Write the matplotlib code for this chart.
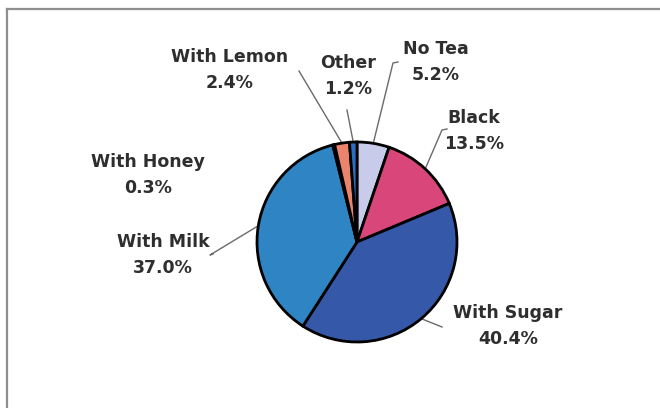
"""
Tea drinking habits - pie chart with leader-line labels.
"""

import numpy as np
import matplotlib.pyplot as plt

# Data (clockwise from 12 o'clock)
categories = ['No Tea', 'Black', 'With Sugar', 'With Milk', 'With Honey', 'With Lemon', 'Other']
shares = [5.2, 13.5, 40.4, 37.0, 0.3, 2.4, 1.2]
slice_colors = ['#C9CBEA', '#D8467A', '#3559A8', '#2F84C4', '#1F3F8C', '#EA846C', '#2A6EC0']

# Layout (pixel coords, origin top-left)
W, H = 660, 408
CENTER = (357, 242)
RADIUS = 100
label_pos = {
    'No Tea': (436, 62), 'Black': (474, 131), 'With Sugar': (508, 326),
    'With Milk': (163, 255), 'With Honey': (148, 175), 'With Lemon': (230, 70),
    'Other': (348, 76),
}
# leader line outer end, plus optional little elbow tick
leader_end = {
    'No Tea': [(398, 62), (393, 63)], 'Black': [(447, 129), (442, 130)],
    'With Sugar': [(442, 327)], 'With Milk': [(213, 254), (210, 255)],
    'With Lemon': [(299, 71)], 'Other': [(347, 110)],
}
TEXT_COLOR = '#2E2E2E'
LEADER_COLOR = '#6A6A6A'

fig = plt.figure(figsize=(W / 100, H / 100), dpi=100, facecolor='white')
ax = fig.add_axes([0, 0, 1, 1])
ax.set_xlim(0, W)
ax.set_ylim(0, H)
ax.set_aspect('equal')
ax.axis('off')

cx, cy = CENTER[0], H - CENTER[1]
wedges, _ = ax.pie(shares, colors=slice_colors, startangle=90, counterclock=False,
                   center=(cx, cy), radius=RADIUS,
                   wedgeprops={'edgecolor': 'black', 'linewidth': 2.0})
ax.set_xlim(0, W)
ax.set_ylim(0, H)

for w, name, val in zip(wedges, categories, shares):
    lx, ly = label_pos[name]
    ax.text(lx, H - ly, f'{name}\n{val:.1f}%', ha='center', va='center',
            fontsize=12.5, fontweight='bold', color=TEXT_COLOR,
            family='DejaVu Sans', linespacing=1.6)
    if name in leader_end:
        mid = np.deg2rad((w.theta1 + w.theta2) / 2)
        px = cx + RADIUS * np.cos(mid)
        py = cy + RADIUS * np.sin(mid)
        pts = [(x, H - y) for x, y in leader_end[name]] + [(px, py)]
        xs, ys = zip(*pts)
        ax.plot(xs, ys, color=LEADER_COLOR, lw=1.0, zorder=0)

# chart frame (top and left edges visible in the scan)
ax.plot([7, W], [H - 9, H - 9], color='#8E8E8E', lw=1.6, clip_on=False)
ax.plot([7, 7], [H - 9, 0], color='#8E8E8E', lw=1.6, clip_on=False)

plt.savefig('out.png', dpi=100, facecolor='white')
plt.close(fig)
